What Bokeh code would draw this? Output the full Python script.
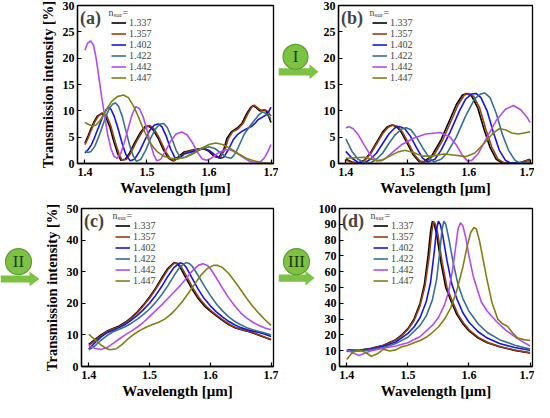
from bokeh.plotting import figure
from bokeh.layouts import column, row
from bokeh.models import FixedTicker, Label, Legend, LegendItem, Range1d
from bokeh.core.properties import value
from bokeh.embed import file_html
from bokeh.resources import INLINE

# ---------------- data ----------------
SERIES = ["1.337", "1.357", "1.402", "1.422", "1.442", "1.447"]
COLORS = ["#000000", "#9C3D10", "#1414E6", "#35708F", "#B44BF2", "#808010"]
X_TICKS = [1.4, 1.5, 1.6, 1.7]
Y_TICKS_AB = [0, 5, 10, 15, 20, 25, 30]
Y_TICKS_C = [0, 10, 20, 30, 40, 50]
Y_TICKS_D = [0, 10, 20, 30, 40, 50, 60, 70, 80, 90, 100]
PANEL_TAGS = ["(a)", "(b)", "(c)", "(d)"]
STEP_NAMES = ["I", "II", "III"]
X_LABEL = "Wavelength [\u03bcm]"
Y_LABEL = "Transmission intensity [%]"

# panel (a)
A_1337 = [(1.400,3.9),(1.405,5.2),(1.410,6.7),(1.415,8.0),(1.420,9.0),(1.427,9.5),(1.433,9.0),
          (1.440,7.0),(1.447,4.0),(1.453,1.8),(1.458,0.6),(1.465,0.8),(1.472,2.0),(1.480,3.9),
          (1.490,6.0),(1.497,7.0),(1.503,7.1),(1.510,6.4),(1.518,4.8),(1.527,2.5),(1.535,1.0),
          (1.542,0.5),(1.550,1.2),(1.560,2.2),(1.575,2.6),(1.590,2.9),(1.600,2.3),(1.608,1.4),
          (1.616,1.1),(1.624,2.7),(1.629,4.8),(1.636,6.0),(1.645,6.7),(1.653,7.6),(1.661,9.5),
          (1.667,10.6),(1.671,11.0),(1.676,10.6),(1.682,10.0),(1.688,10.1),(1.692,10.0),
          (1.696,9.0),(1.700,7.8)]
A_1357 = [(1.400,3.6),(1.405,4.8),(1.410,6.3),(1.415,7.7),(1.421,8.9),(1.428,9.6),(1.435,9.1),
          (1.442,7.0),(1.449,4.0),(1.455,1.8),(1.460,0.6),(1.467,0.8),(1.474,2.0),(1.482,3.9),
          (1.492,6.0),(1.499,7.0),(1.505,7.2),(1.512,6.5),(1.520,4.8),(1.529,2.5),(1.537,1.0),
          (1.544,0.5),(1.552,1.2),(1.562,2.1),(1.577,2.6),(1.592,2.9),(1.602,2.3),(1.610,1.4),
          (1.618,1.1),(1.626,2.7),(1.631,4.7),(1.638,6.0),(1.647,6.6),(1.655,7.6),(1.663,9.5),
          (1.669,10.7),(1.673,11.1),(1.678,10.6),(1.684,10.1),(1.690,10.2),(1.695,9.9),
          (1.700,9.0)]
A_1402 = [(1.400,2.0),(1.405,2.6),(1.410,3.5),(1.415,4.8),(1.420,6.3),(1.425,7.8),(1.430,9.3),
          (1.434,10.2),(1.438,10.7),(1.442,10.3),(1.447,9.0),(1.453,6.8),(1.460,3.8),(1.466,1.7),
          (1.473,0.5),(1.480,0.8),(1.488,2.3),(1.496,4.3),(1.504,6.2),(1.512,7.3),(1.518,7.5),
          (1.524,7.0),(1.531,5.2),(1.538,2.8),(1.545,1.1),(1.551,0.9),(1.560,1.8),(1.575,2.3),
          (1.590,2.8),(1.600,2.5),(1.610,1.6),(1.618,1.0),(1.624,1.2),(1.632,2.8),(1.639,4.5),
          (1.646,5.5),(1.653,6.1),(1.661,6.6),(1.668,7.0),(1.674,7.6),(1.679,8.3),(1.686,8.8),
          (1.692,9.2),(1.697,10.0),(1.700,10.7)]
A_1422 = [(1.400,2.4),(1.405,2.1),(1.410,2.3),(1.416,3.3),(1.422,5.0),(1.428,7.0),(1.434,9.0),
          (1.440,10.6),(1.445,11.3),(1.449,11.5),(1.454,10.9),(1.460,9.0),(1.466,6.2),(1.472,3.5),
          (1.478,1.4),(1.483,0.4),(1.490,0.8),(1.498,2.5),(1.506,4.8),(1.514,6.6),(1.521,7.5),
          (1.527,7.6),(1.533,6.8),(1.540,4.8),(1.547,2.5),(1.554,1.1),(1.562,1.2),(1.575,2.0),
          (1.588,2.8),(1.600,3.2),(1.610,2.8),(1.620,1.9),(1.628,1.2),(1.636,1.0),(1.643,2.0),
          (1.650,3.8),(1.657,5.6),(1.664,6.8),(1.672,8.0),(1.680,9.2),(1.686,9.8),(1.692,9.5),
          (1.700,8.5)]
A_1442 = [(1.400,21.5),(1.404,22.8),(1.409,23.3),(1.414,22.4),(1.418,20.0),(1.422,16.8),
          (1.427,12.6),(1.432,8.9),(1.437,5.3),(1.442,2.8),(1.447,1.3),(1.452,1.0),(1.458,2.0),
          (1.464,4.2),(1.470,6.8),(1.476,9.3),(1.482,10.8),(1.488,10.4),(1.494,8.8),(1.500,6.4),
          (1.506,3.6),(1.511,1.6),(1.516,0.5),(1.522,0.8),(1.530,2.4),(1.538,4.2),(1.547,5.6),
          (1.556,6.0),(1.565,5.4),(1.574,3.8),(1.582,2.0),(1.589,0.9),(1.596,0.6),(1.604,1.0),
          (1.615,2.0),(1.626,2.6),(1.634,2.6),(1.643,2.1),(1.653,1.3),(1.664,0.5),(1.675,0.1),
          (1.684,0.4),(1.690,1.2),(1.695,2.3),(1.700,3.6)]
A_1447 = [(1.400,7.8),(1.406,7.4),(1.412,7.1),(1.418,7.3),(1.424,8.1),(1.430,9.2),(1.437,10.7),
          (1.444,11.9),(1.452,12.7),(1.462,13.0),(1.470,12.5),(1.478,11.0),(1.486,8.9),
          (1.494,6.6),(1.502,4.6),(1.510,3.1),(1.518,2.1),(1.527,1.4),(1.538,1.0),(1.550,0.9),
          (1.562,1.2),(1.575,1.9),(1.588,2.9),(1.600,3.6),(1.611,3.9),(1.622,3.6),(1.635,2.8),
          (1.648,1.8),(1.660,1.0),(1.672,0.5),(1.684,0.2),(1.700,0.1)]

# panel (b)
B_1337 = [(1.400,0.8),(1.410,0.3),(1.420,0.1),(1.430,0.6),(1.440,2.0),(1.450,4.0),(1.460,6.0),
          (1.468,7.0),(1.475,7.3),(1.483,7.0),(1.490,6.0),(1.500,3.8),(1.510,1.6),(1.519,0.4),
          (1.527,0.3),(1.540,1.5),(1.555,4.5),(1.570,8.5),(1.580,11.2),(1.590,13.0),(1.597,13.3),
          (1.605,12.8),(1.615,10.5),(1.625,6.5),(1.635,3.0),(1.645,0.8),(1.655,0.1),(1.670,0.1),
          (1.685,0.2),(1.700,0.8)]
B_1357 = [(1.400,0.6),(1.410,0.2),(1.420,0.1),(1.430,0.5),(1.440,1.8),(1.450,3.7),(1.460,5.7),
          (1.469,6.9),(1.477,7.3),(1.485,7.0),(1.492,6.0),(1.502,3.8),(1.512,1.6),(1.521,0.4),
          (1.530,0.3),(1.543,1.5),(1.558,4.5),(1.573,8.5),(1.583,11.2),(1.593,13.0),(1.600,13.3),
          (1.608,12.8),(1.618,10.5),(1.628,6.5),(1.638,3.0),(1.648,0.8),(1.658,0.1),(1.672,0.1),
          (1.687,0.3),(1.700,0.7)]
B_1402 = [(1.400,2.3),(1.410,1.0),(1.420,0.2),(1.430,0.1),(1.440,0.8),(1.450,2.0),(1.460,3.8),
          (1.470,5.6),(1.480,6.8),(1.488,7.0),(1.496,6.6),(1.505,5.2),(1.515,3.0),(1.525,1.0),
          (1.533,0.3),(1.545,0.8),(1.555,2.5),(1.570,6.0),(1.585,10.0),(1.595,12.2),(1.605,13.2),
          (1.612,13.3),(1.620,12.5),(1.630,10.0),(1.640,6.0),(1.650,2.5),(1.660,0.6),(1.668,0.1),
          (1.685,0.1),(1.700,0.3)]
B_1422 = [(1.400,4.7),(1.410,2.3),(1.420,0.8),(1.430,0.2),(1.440,0.1),(1.450,0.8),(1.460,2.0),
          (1.470,3.8),(1.480,5.4),(1.490,6.5),(1.498,6.8),(1.506,6.4),(1.515,5.0),(1.525,3.0),
          (1.535,1.2),(1.543,0.3),(1.555,0.8),(1.565,2.0),(1.580,5.0),(1.595,9.0),(1.610,12.3),
          (1.620,13.2),(1.626,13.4),(1.635,12.5),(1.645,9.5),(1.655,5.5),(1.665,2.5),(1.675,0.7),
          (1.682,0.1),(1.690,0.1),(1.700,0.2)]
B_1442 = [(1.400,6.8),(1.405,7.0),(1.412,6.6),(1.420,5.5),(1.430,3.5),(1.440,1.6),(1.450,0.6),
          (1.458,0.5),(1.465,1.0),(1.475,2.0),(1.490,3.5),(1.510,4.8),(1.530,5.6),(1.554,5.9),
          (1.570,5.0),(1.580,3.5),(1.590,1.5),(1.598,0.5),(1.605,0.6),(1.615,1.8),(1.630,5.0),
          (1.645,8.2),(1.660,10.3),(1.673,11.0),(1.685,10.2),(1.695,8.8),(1.700,7.8)]
B_1447 = [(1.400,1.0),(1.415,1.1),(1.430,1.2),(1.440,0.9),(1.450,0.5),(1.460,0.7),(1.470,1.3),
          (1.485,2.2),(1.496,2.5),(1.510,2.1),(1.525,1.4),(1.540,1.4),(1.559,1.8),(1.575,1.6),
          (1.595,1.3),(1.610,2.0),(1.625,3.8),(1.640,5.8),(1.650,6.6),(1.660,6.4),(1.670,5.8),
          (1.681,5.6),(1.690,5.8),(1.700,6.0)]

# panel (c)
C_1337 = [(1.400,7.0),(1.410,8.5),(1.420,10.0),(1.430,11.2),(1.440,12.0),(1.450,12.8),(1.460,14.0),
          (1.470,15.5),(1.480,17.3),(1.490,19.5),(1.500,22.0),(1.510,24.8),(1.520,28.0),(1.530,31.0),
          (1.540,32.8),(1.545,32.6),(1.550,31.5),(1.560,28.0),(1.570,24.5),(1.580,21.5),(1.590,19.2),
          (1.600,17.5),(1.610,16.0),(1.620,14.6),(1.630,13.3),(1.640,12.3),(1.650,11.7),(1.660,11.2),
          (1.670,10.6),(1.680,9.9),(1.690,9.2),(1.700,8.5)]
C_1357 = [(1.400,6.6),(1.410,8.2),(1.420,9.7),(1.430,11.0),(1.440,11.9),(1.450,12.6),(1.460,13.8),
          (1.470,15.2),(1.480,17.0),(1.490,19.2),(1.500,21.6),(1.510,24.4),(1.520,27.5),(1.530,30.6),
          (1.540,32.6),(1.546,32.7),(1.552,31.6),(1.562,28.2),(1.572,24.6),(1.582,21.6),(1.592,19.3),
          (1.602,17.5),(1.612,16.0),(1.622,14.6),(1.632,13.3),(1.642,12.3),(1.652,11.7),(1.662,11.2),
          (1.672,10.6),(1.682,9.9),(1.692,9.1),(1.700,8.6)]
C_1402 = [(1.400,5.5),(1.410,7.5),(1.420,9.3),(1.430,10.7),(1.440,11.5),(1.450,12.3),(1.460,13.3),
          (1.470,14.7),(1.480,16.2),(1.490,18.0),(1.500,20.0),(1.510,22.5),(1.520,25.3),(1.530,28.5),
          (1.540,31.3),(1.550,32.8),(1.555,32.5),(1.560,31.5),(1.570,28.0),(1.580,24.5),(1.590,21.5),
          (1.600,19.2),(1.610,17.3),(1.620,15.7),(1.630,14.3),(1.640,13.2),(1.650,12.3),(1.660,11.7),
          (1.670,11.2),(1.680,10.8),(1.690,10.2),(1.700,9.5)]
C_1422 = [(1.400,5.3),(1.410,6.5),(1.420,8.3),(1.430,9.8),(1.440,11.0),(1.450,11.8),(1.460,12.6),
          (1.470,13.7),(1.480,15.0),(1.490,16.5),(1.500,18.2),(1.510,20.3),(1.520,22.7),(1.530,25.5),
          (1.540,28.7),(1.550,31.5),(1.560,32.9),(1.565,32.6),(1.570,31.8),(1.580,28.8),(1.590,25.5),
          (1.600,22.5),(1.610,19.8),(1.620,17.6),(1.630,15.8),(1.640,14.3),(1.650,13.2),(1.660,12.3),
          (1.670,11.6),(1.680,11.1),(1.690,10.6),(1.700,10.0)]
C_1442 = [(1.400,6.5),(1.410,5.8),(1.420,5.4),(1.430,6.0),(1.440,7.3),(1.450,8.7),(1.460,10.0),
          (1.470,11.2),(1.480,12.5),(1.490,14.0),(1.500,15.8),(1.510,17.7),(1.520,19.5),(1.530,21.5),
          (1.540,23.5),(1.550,25.5),(1.560,27.8),(1.570,30.2),(1.580,32.0),(1.588,32.5),(1.595,32.0),
          (1.600,31.0),(1.610,28.0),(1.620,24.8),(1.630,21.8),(1.640,19.2),(1.650,17.0),(1.660,15.3),
          (1.670,14.0),(1.680,13.0),(1.690,12.2),(1.700,11.6)]
C_1447 = [(1.400,10.2),(1.410,8.5),(1.420,6.8),(1.430,5.6),(1.435,5.3),(1.445,5.6),(1.455,7.0),
          (1.465,8.8),(1.475,10.3),(1.485,11.5),(1.495,12.5),(1.505,13.3),(1.515,14.0),(1.525,15.0),
          (1.535,16.5),(1.545,18.5),(1.555,20.8),(1.565,23.5),(1.575,26.3),(1.585,29.0),(1.595,31.0),
          (1.605,32.0),(1.612,32.0),(1.620,31.3),(1.630,29.5),(1.640,27.0),(1.650,24.3),(1.660,21.5),
          (1.670,19.0),(1.680,16.8),(1.690,14.8),(1.700,13.0)]

# panel (d)
D_1337 = [(1.400,9.7),(1.420,10.3),(1.440,11.5),(1.460,13.5),(1.480,17.0),(1.490,20.0),(1.500,24.0),
          (1.510,30.0),(1.520,40.0),(1.527,52.0),(1.533,70.0),(1.537,85.0),(1.540,91.8),(1.543,90.0),
          (1.547,84.0),(1.554,66.0),(1.562,50.0),(1.570,42.0),(1.580,33.0),(1.590,27.0),(1.600,22.5),
          (1.615,18.0),(1.630,15.0),(1.650,12.5),(1.675,10.2),(1.700,8.5)]
D_1357 = [(1.400,9.5),(1.420,10.2),(1.440,11.4),(1.460,13.3),(1.480,16.7),(1.490,19.6),(1.500,23.4),
          (1.510,29.0),(1.520,38.5),(1.528,51.0),(1.535,70.0),(1.539,85.0),(1.542,91.8),(1.545,90.0),
          (1.549,84.0),(1.556,66.0),(1.564,50.0),(1.572,42.0),(1.582,33.0),(1.592,27.0),(1.602,22.5),
          (1.617,18.0),(1.632,15.0),(1.652,12.5),(1.677,10.2),(1.700,8.8)]
D_1402 = [(1.400,10.5),(1.420,10.2),(1.440,11.0),(1.460,12.8),(1.480,15.5),(1.500,21.0),(1.510,25.0),
          (1.520,31.0),(1.530,41.0),(1.537,53.0),(1.543,72.0),(1.547,87.0),(1.550,92.0),(1.553,90.0),
          (1.557,83.0),(1.564,67.0),(1.572,52.0),(1.580,43.0),(1.590,34.0),(1.600,28.0),(1.615,22.0),
          (1.630,18.0),(1.650,14.5),(1.675,12.0),(1.700,10.3)]
D_1422 = [(1.400,10.0),(1.420,9.8),(1.440,10.5),(1.460,12.0),(1.480,14.5),(1.500,18.5),(1.520,26.0),
          (1.530,32.0),(1.540,42.0),(1.547,55.0),(1.552,72.0),(1.556,87.0),(1.559,92.0),(1.562,90.0),
          (1.567,81.0),(1.574,66.0),(1.582,52.0),(1.590,43.0),(1.600,35.0),(1.615,27.0),(1.630,21.5),
          (1.650,17.0),(1.675,13.5),(1.700,11.0)]
D_1442 = [(1.400,10.5),(1.410,8.5),(1.420,7.0),(1.430,8.5),(1.440,10.0),(1.460,11.5),(1.480,13.0),
          (1.500,15.0),(1.520,19.0),(1.540,26.0),(1.550,31.0),(1.560,39.0),(1.567,48.0),(1.573,61.0),
          (1.578,75.0),(1.582,87.0),(1.586,91.0),(1.590,89.0),(1.595,81.0),(1.600,70.0),(1.607,57.0),
          (1.620,41.0),(1.630,35.0),(1.645,28.5),(1.660,23.0),(1.680,17.5),(1.700,13.0)]
D_1447 = [(1.400,4.5),(1.405,7.0),(1.410,9.0),(1.420,10.5),(1.430,9.0),(1.440,6.5),(1.450,8.0),
          (1.460,11.0),(1.470,9.8),(1.480,10.5),(1.490,12.5),(1.500,13.5),(1.510,15.0),(1.520,16.5),
          (1.530,18.5),(1.540,21.5),(1.550,25.0),(1.560,30.0),(1.570,37.0),(1.580,48.0),(1.590,63.0),
          (1.597,76.0),(1.603,85.0),(1.608,88.0),(1.612,87.0),(1.617,80.0),(1.623,68.0),(1.630,54.0),
          (1.638,40.0),(1.647,30.0),(1.655,27.0),(1.663,25.5),(1.672,21.0),(1.680,18.0),(1.690,17.0),
          (1.700,16.5)]

PANEL_A = [A_1337, A_1357, A_1402, A_1422, A_1442, A_1447]
PANEL_B = [B_1337, B_1357, B_1402, B_1422, B_1442, B_1447]
PANEL_C = [C_1337, C_1357, C_1402, C_1422, C_1442, C_1447]
PANEL_D = [D_1337, D_1357, D_1402, D_1422, D_1442, D_1447]

# ---------------- styling ----------------
FONT = "Liberation Serif"
GREEN = "#7DC242"
GREEN_DARK = "#5E9E2C"
X_RANGE = (1.388, 1.704)
FRAME_H = 158


def make_panel(tag, data, ymax, yticks, width, height, bl, br, bt, bb, ylabel):
    p = figure(width=width, height=height, x_range=Range1d(*X_RANGE),
               y_range=Range1d(0, ymax), output_backend="svg", toolbar_location=None,
               min_border_left=bl, min_border_right=br, min_border_top=bt,
               min_border_bottom=bb)
    p.background_fill_color = "white"
    p.border_fill_color = "white"
    p.grid.visible = False
    p.outline_line_color = "black"
    p.outline_line_width = 1.3
    p.xaxis.ticker = FixedTicker(ticks=X_TICKS)
    p.yaxis.ticker = FixedTicker(ticks=yticks)
    for ax in (p.xaxis[0], p.yaxis[0]):
        ax.axis_line_width = 1.3
        ax.major_tick_in = 4
        ax.major_tick_out = 0
        ax.major_tick_line_width = 1.2
        ax.minor_tick_line_color = None
        ax.major_label_text_font = FONT
        ax.major_label_text_font_style = "bold"
        ax.major_label_text_font_size = "12px"
        ax.major_label_text_color = "black"
        ax.axis_label_text_font = FONT
        ax.axis_label_text_font_style = "bold"
        ax.axis_label_text_font_size = "15px"
        ax.axis_label_text_color = "black"
    p.xaxis.major_label_standoff = 4
    p.yaxis.major_label_standoff = 3
    p.xaxis.axis_label = X_LABEL
    p.xaxis.axis_label_standoff = 1
    if ylabel:
        p.yaxis.axis_label = Y_LABEL
        p.yaxis.axis_label_standoff = 4
        p.yaxis.axis_label_text_font_size = "14.5px"

    rends = []
    for pts, c in zip(data, COLORS):
        xs = [a for a, _ in pts]
        ys = [b for _, b in pts]
        rends.append(p.line(xs, ys, line_color=c, line_width=1.6))

    items = [LegendItem(label=s, renderers=[r]) for s, r in zip(SERIES, rends)]
    leg = Legend(items=items, location=(34, FRAME_H - 10 - 68), padding=0, margin=0,
                 spacing=0, glyph_width=15, glyph_height=11, label_height=11,
                 label_standoff=3, label_text_font=FONT, label_text_font_size="10px",
                 border_line_color=None, background_fill_alpha=0.0)
    p.add_layout(leg)

    p.add_layout(Label(x=2.5, y=FRAME_H - 2, x_units="screen", y_units="screen", text=tag,
                       text_baseline="top", text_font=FONT, text_font_style="bold",
                       text_font_size="18px"))
    p.add_layout(Label(x=31, y=FRAME_H - 7, x_units="screen", y_units="screen", text="n",
                       text_baseline="alphabetic", text_font=FONT, text_font_size="10px"))
    p.add_layout(Label(x=36, y=FRAME_H - 9, x_units="screen", y_units="screen", text="sur",
                       text_baseline="alphabetic", text_font=FONT, text_font_size="7px"))
    p.add_layout(Label(x=45, y=FRAME_H - 7, x_units="screen", y_units="screen", text="=",
                       text_baseline="alphabetic", text_font=FONT, text_font_size="10px"))
    return p


def make_gutter(width, height, name, cx, cy, x0, xh, xt, yc, r=13, h1=4.5, h2=9.5):
    """Small decoration-only canvas holding the green process arrow and badge."""
    g = figure(width=width, height=height, x_range=Range1d(0, width),
               y_range=Range1d(0, height), output_backend="svg", toolbar_location=None,
               x_axis_location=None, y_axis_location=None,
               min_border_left=0, min_border_right=0, min_border_top=0, min_border_bottom=0)
    g.grid.visible = False
    g.outline_line_color = None
    g.background_fill_color = "white"
    g.border_fill_color = "white"
    g.patch([x0, xh, xh, xt, xh, xh, x0],
            [yc - h1, yc - h1, yc - h2, yc, yc + h2, yc + h1, yc + h1],
            fill_color=GREEN, line_color=None)
    g.scatter([cx], [cy], marker="circle", size=2 * r, fill_color=GREEN,
              line_color=GREEN_DARK, line_width=1.2)
    g.text([cx], [cy], text=[name], text_align="center", text_baseline="middle",
           text_font=value(FONT), text_font_size="17px", text_color="#183A10")
    return g


TOP_H, BOT_H = 200, 202
TOP_BB, BOT_BB = 37, 36
pa = make_panel(PANEL_TAGS[0], PANEL_A, 30, Y_TICKS_AB, 278, TOP_H, 77, 5, 5, TOP_BB, True)
gI = make_gutter(42, TOP_H, STEP_NAMES[0], 17, TOP_BB + 98, 0, 31, 40, TOP_BB + 79, r=12.5)
pb = make_panel(PANEL_TAGS[1], PANEL_B, 30, Y_TICKS_AB, 214, TOP_H, 16, 2, 5, TOP_BB, False)

gII = make_gutter(40, BOT_H, STEP_NAMES[1], 18, BOT_BB + 98, 0, 29, 39, BOT_BB + 76)
pc = make_panel(PANEL_TAGS[2], PANEL_C, 50, Y_TICKS_C, 238, BOT_H, 37, 5, 8, BOT_BB, True)
gIII = make_gutter(37, BOT_H, STEP_NAMES[2], 18, BOT_BB + 98, 0, 27, 36, BOT_BB + 77)
pd = make_panel(PANEL_TAGS[3], PANEL_D, 100, Y_TICKS_D, 219, BOT_H, 21, 2, 8, BOT_BB, False)

layout = column(row(pa, gI, pb), row(gII, pc, gIII, pd))
open("out.html", "w").write(file_html(layout, INLINE))
